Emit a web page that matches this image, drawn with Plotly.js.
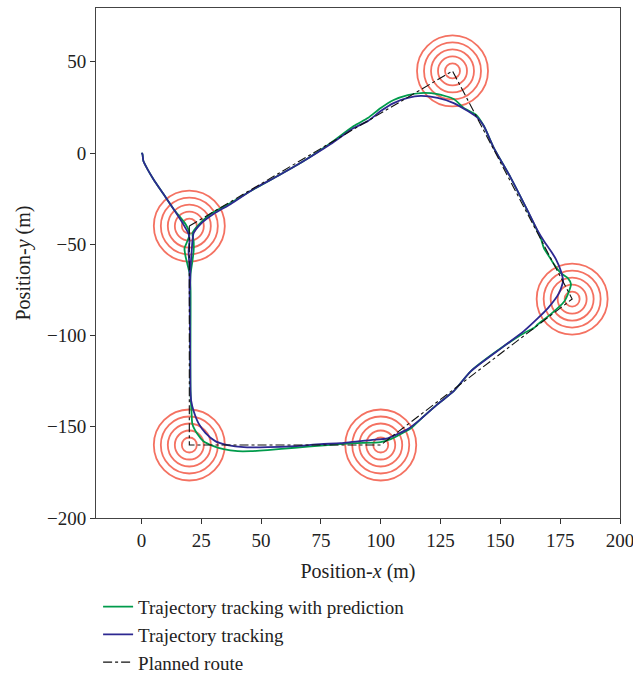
<!DOCTYPE html>
<html>
<head>
<meta charset="utf-8">
<script src="https://cdn.plot.ly/plotly-3.0.1.min.js"></script>
<style>html,body{margin:0;padding:0;background:#fff;}#chart{width:633px;height:676px;}</style>
</head>
<body>
<div id="chart"></div>
<script>
// Waypoints (centres of the red acceptance circles)
const wpX = [20, 130, 180, 20, 100];
const wpY = [-40, 45, -80, -160, -160];

// Planned route
const routeX = [20, 130, 180, 100, 20, 20];
const routeY = [-40, 45, -80, -160, -160, -40];

// Trajectory tracking (blue)
const blueX = [0, 0.4, 0.8, 2.5, 5, 9.2, 13.4, 17.2, 19.7, 20.1, 19.7, 20.1, 20.1, 20.3, 20.5,
  20.8, 21.8, 23.8, 26.8, 31, 36, 42.7, 52.7, 64, 74.9, 83.3, 95.8, 102.9, 107, 111.3, 116.7, 123.8, 130.5,
  137.7, 151.5, 159.8, 165.7, 169.9, 174.5, 176.2, 175.3, 173.2, 171.1, 168.2, 165.7, 161.5, 154.4,
  147.3, 143.1, 140.6, 136.4, 130.5, 123.8, 116.7, 111.3, 105.4, 100, 94.6, 88.7, 79.1, 67.8, 56.9,
  46.9, 37.2, 30.1, 24.7, 21.8, 21.3, 20.9, 20.5, 20.3];
const blueY = [0, -0.5, -4.4, -8.8, -14.3, -22.5, -30.7, -38.4, -44.4, -48.2, -53.7, -63, -74, -100, -130.5,
  -136, -141.4, -148, -153.5, -158, -160, -161.2, -161.2, -160.6, -159.5, -159, -157.3, -156.3, -154, -151.3, -145.8, -137.6, -130.5,
  -119.5, -105.8, -97.6, -90.5, -85, -76.8, -70.2, -64.7, -58.1, -53.7, -48.2, -42.8, -31.8, -13.7,
  2.7, 14.8, 19.2, 23, 27.4, 30.2, 31.3, 30.2, 27.4, 23, 17.5, 13.7, 4.9, -4.4, -12.6,
  -19.7, -28, -33.4, -38.9, -43.9, -48.2, -55.4, -63, -75];

// Trajectory tracking with prediction (green)
const greenX = [0, 0.4, 0.8, 2.5, 5, 9.2, 13.4, 18.4, 20.1, 19.2, 18, 18.4, 19.2, 20.1, 20.5, 20.5, 20.5,
  20.9, 21.3, 23.4, 25.9, 30.1, 34.3, 40.2, 45.6, 52.7, 64, 75, 88.7, 100, 104.2, 108.4, 112.6, 116.7, 123.8, 130.5,
  137.7, 151.5, 159.8, 164, 165.7, 171.1, 176.6, 178.7, 179.5, 178.2, 175.3, 172.4, 170.3, 168.2, 166.9, 164.9,
  154.4, 147.3, 143.1, 139.8, 134.7, 130.5, 123.8, 116.7, 111.3, 105.4, 100, 94.6, 88.7, 79.1, 67.8, 56.9,
  45.6, 37.2, 28.9, 23.4, 21.3, 21.8, 21.8, 21.3, 20.5, 20.4];
const greenY = [0, -0.5, -4.4, -8.8, -14.3, -22.5, -30.7, -38.9, -44.4, -48.2, -52.1, -56.5, -60.9, -65.8, -74, -100, -130.5,
  -141.4, -148.6, -154, -157.9, -160.6, -162.3, -163.4, -163.4, -162.8, -161.5, -160.3, -159, -158.4, -156.8, -154, -150.8, -145.8, -137.6, -130.5,
  -119.5, -105.8, -98.7, -95.9, -93.8, -88.3, -81.5, -75.7, -71.8, -68.5, -65.8, -60.9, -56.5, -52.1, -46.6, -41.1,
  -13.7, 2.7, 14.8, 21, 24.7, 29.6, 32.3, 32.9, 31.8, 29.1, 24.7, 19.2, 14.8, 5.5, -4.4, -12.6,
  -20.8, -27.4, -33.4, -40, -43.9, -48.2, -53.7, -59.2, -66.3, -75];

const xTicks = [0, 25, 50, 75, 100, 125, 150, 175, 200];
const yTicks = [-200, -150, -100, -50, 0, 50];

const ringSizes = [71, 57, 43, 29, 15];
const ringX = [], ringY = [], ringS = [];
for (let i = 0; i < wpX.length; i++) {
  for (const s of ringSizes) { ringX.push(wpX[i]); ringY.push(wpY[i]); ringS.push(s); }
}

const FONT = 'Liberation Serif, Times New Roman, serif';
const RED = 'rgb(240,52,30)';

const data = [
  {x: ringX, y: ringY, mode: 'markers', type: 'scatter', showlegend: false, hoverinfo: 'skip',
   marker: {symbol: 'circle-open', size: ringS, color: RED, line: {width: 1.8, color: RED}}},
  {x: greenX, y: greenY, mode: 'lines', type: 'scatter', name: 'Trajectory tracking with prediction', legendrank: 1,
   line: {color: 'rgb(0,155,75)', width: 1.8, shape: 'spline', smoothing: 0.6}},
  {x: blueX, y: blueY, mode: 'lines', type: 'scatter', name: 'Trajectory tracking', legendrank: 2,
   line: {color: 'rgb(45,40,145)', width: 1.8, shape: 'spline', smoothing: 0.6}},
  {x: routeX, y: routeY, mode: 'lines', type: 'scatter', name: 'Planned route', legendrank: 3,
   line: {color: '#111', width: 1.1, dash: 'dashdot'}}
];

const layout = {
  width: 633, height: 676,
  margin: {l: 96, r: 13, t: 8, b: 158, autoexpand: false},
  paper_bgcolor: '#fff', plot_bgcolor: '#fff',
  font: {family: FONT, size: 19, color: '#222'},
  showlegend: true,
  legend: {x: 0.004, xanchor: 'left', y: -0.137, yanchor: 'top',
           orientation: 'v', font: {family: FONT, size: 19, color: '#222'}, tracegroupgap: 0,
           bgcolor: 'rgba(0,0,0,0)'},
  xaxis: {range: [-19, 200], tickvals: xTicks, ticktext: xTicks.map(String), ticks: 'outside', ticklen: 5,
          tickcolor: '#333', showgrid: false, zeroline: false, showline: true, mirror: true,
          linecolor: '#444', linewidth: 1, automargin: false, ticklabeloverflow: 'allow',
          title: {text: 'Position-<i>x</i> (m)', standoff: 14, font: {family: FONT, size: 20, color: '#222'}},
          tickfont: {family: FONT, size: 19, color: '#222'}},
  yaxis: {range: [-200, 79.5], tickvals: yTicks, ticks: 'outside', ticklen: 5,
          tickcolor: '#333', showgrid: false, zeroline: false, showline: true, mirror: true,
          linecolor: '#444', linewidth: 1, automargin: false, ticklabeloverflow: 'allow',
          title: {text: 'Position-<i>y</i> (m)', standoff: 10, font: {family: FONT, size: 20, color: '#222'}},
          tickfont: {family: FONT, size: 19, color: '#222'}},
  hovermode: false
};

Plotly.newPlot('chart', data, layout, {displayModeBar: false, staticPlot: true});
</script>
</body>
</html>
